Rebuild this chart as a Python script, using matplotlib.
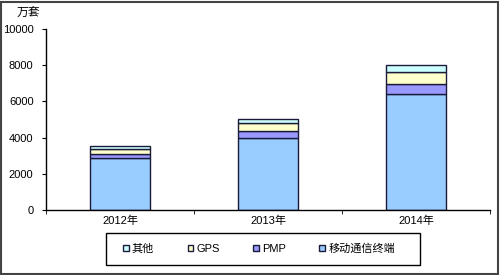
import numpy as np
import matplotlib
matplotlib.use("Agg")
import matplotlib.pyplot as plt
from matplotlib.patches import Rectangle

plt.rcParams["font.family"] = ["Liberation Sans", "Noto Sans CJK SC", "DejaVu Sans"]

# 数据（单位：万套）
years = ["2012年", "2013年", "2014年"]
series_names = ["移动通信终端", "PMP", "GPS", "其他"]
mobile = [2860, 3970, 6400]
pmp = [260, 400, 555]
gps = [260, 445, 645]
other = [180, 205, 410]
colors = ["#99CCFF", "#9999FF", "#FFFFCC", "#CCFFFF"]

fig = plt.figure(figsize=(5.0, 2.75), dpi=100)
ax = fig.add_axes([0.092, 0.236, 0.888, 0.659])

x = np.arange(len(years))
bottom = np.zeros(len(years))
handles = []
for name, vals, c in zip(series_names, [mobile, pmp, gps, other], colors):
    h = ax.bar(x, vals, width=0.4, bottom=bottom, color=c,
               edgecolor="#1a1a3a", linewidth=1.0, label=name)
    handles.append(h)
    bottom += np.array(vals)

ax.set_xlim(-0.5, len(years) - 0.5)
ax.set_ylim(0, 10000)
ax.set_yticks(range(0, 10001, 2000))
ax.tick_params(axis="y", labelsize=8, length=3, direction="out", pad=6)

ax.set_xticks(x)
ax.set_xticklabels(years)
ax.set_xticks(np.arange(-0.5, len(years)), minor=True)
ax.tick_params(axis="x", which="major", length=0, labelsize=8, pad=4)
ax.tick_params(axis="x", which="minor", length=3, direction="out")

for s in ["top", "right"]:
    ax.spines[s].set_visible(False)
for s in ["left", "bottom"]:
    ax.spines[s].set_linewidth(1.0)
    ax.spines[s].set_color("black")

fig.text(0.034, 0.97, "万套", fontsize=8.5, va="top", ha="left")

# 图例：框单独画
fig.patches.append(Rectangle((0.212, 0.036), 0.628, 0.117, transform=fig.transFigure,
                             fill=False, edgecolor="black", linewidth=1.0))
fig.legend(handles[::-1], series_names[::-1], loc="center",
           bbox_to_anchor=(0.518, 0.095), ncol=4, fontsize=8, frameon=False,
           handlelength=0.5, handleheight=0.5, handletextpad=0.3,
           columnspacing=3.0)

fig.patches.append(Rectangle((0.002, 0.004), 0.994, 0.99, transform=fig.transFigure,
                             fill=False, edgecolor="#444444", linewidth=1.5))

fig.savefig("out.png", dpi=100)
